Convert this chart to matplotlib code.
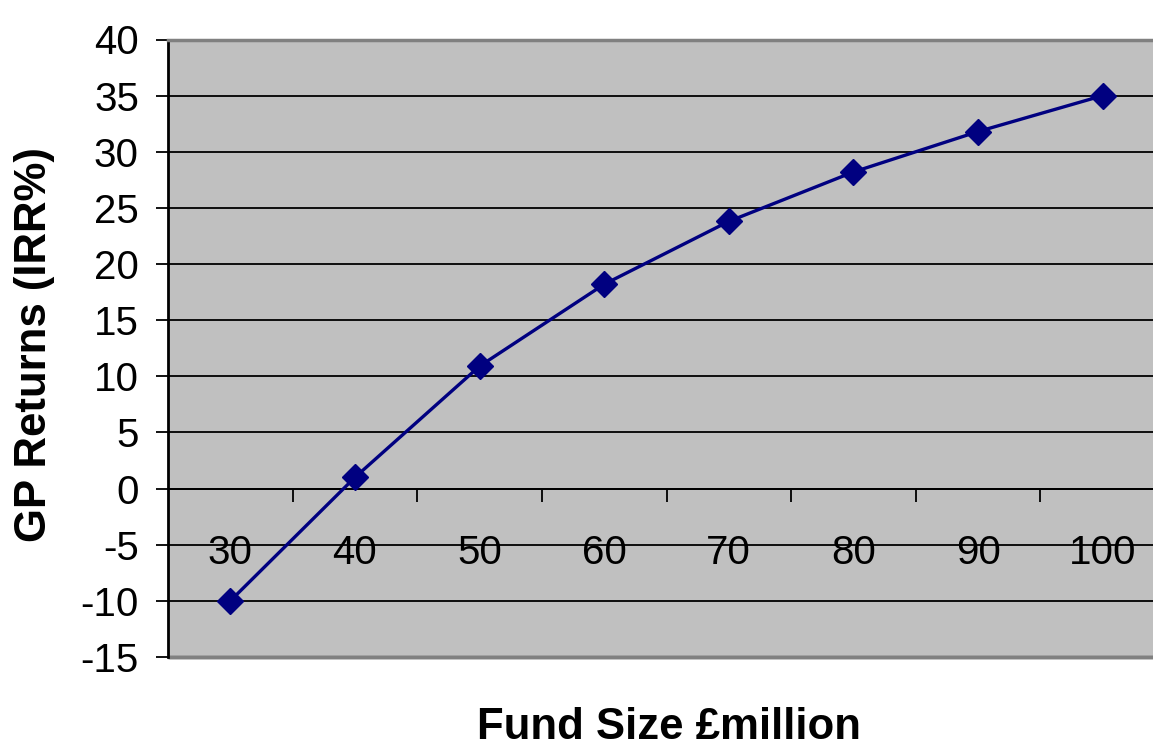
import matplotlib.pyplot as plt
from matplotlib.patches import Rectangle

# fund size categories (GBP million) and GP returns (IRR %)
fund_sizes = ['30', '40', '50', '60', '70', '80', '90', '100']
gp_irr = [-10, 1, 10.9, 18.2, 23.8, 28.2, 31.8, 35]
y_ticks = [-15, -10, -5, 0, 5, 10, 15, 20, 25, 30, 35, 40]

plt.rcParams['font.family'] = ['Liberation Sans', 'DejaVu Sans']
plt.rcParams['axes.unicode_minus'] = False

W, H = 1153, 746
fig = plt.figure(figsize=(W / 100, H / 100), dpi=100)
# plot area runs a little past the right edge of the figure
ax = fig.add_axes([168 / W, (H - 657) / H, (1165 - 168) / W, (657 - 39.5) / H])
ax.set_facecolor('#c0c0c0')

x = list(range(len(fund_sizes)))
ax.plot(x, gp_irr, color='#000080', lw=2.4, marker='D', ms=13.5,
        mfc='#000080', mec='#000080', zorder=5, clip_on=False)

ax.set_xlim(-0.5, len(fund_sizes) - 0.5)
ax.set_ylim(y_ticks[0], y_ticks[-1])

# horizontal gridlines
ax.set_yticks(y_ticks)
ax.yaxis.grid(True, color='black', lw=1.3)
ax.set_axisbelow(True)
ax.tick_params(axis='y', direction='out', length=9, width=1.3,
               pad=12, labelsize=29)

# category axis crosses at zero
ax.spines['bottom'].set_position(('data', 0))
ax.spines['bottom'].set_color('black')
ax.spines['bottom'].set_linewidth(1.3)
ax.set_xticks([i + 0.5 for i in x[:-1]])
ax.set_xticklabels([])
ax.tick_params(axis='x', which='major', direction='out', length=9, width=1.3)
ax.set_xticks(x, minor=True)
ax.set_xticklabels(fund_sizes, minor=True)
ax.tick_params(axis='x', which='minor', length=0, pad=33, labelsize=29)

ax.spines['left'].set_linewidth(2)
ax.spines['left'].set_color('black')
ax.spines['right'].set_visible(False)
ax.spines['top'].set_color('#808080')
ax.spines['top'].set_linewidth(2.5)
# grey frame along the bottom of the plot area
ax.add_patch(Rectangle((0, 0), 1.02, 0, transform=ax.transAxes,
                       ec='#808080', lw=2.5, fill=False, clip_on=False))

fig.text(35 / W, (H - 345) / H, 'GP Returns (IRR%)', rotation=90,
         ha='center', va='center', fontsize=31.5, fontweight='bold')
fig.text(669 / W, (H - 739) / H, 'Fund Size \u00a3million',
         ha='center', va='baseline', fontsize=31.5, fontweight='bold')

fig.savefig('out.png', dpi=100)
